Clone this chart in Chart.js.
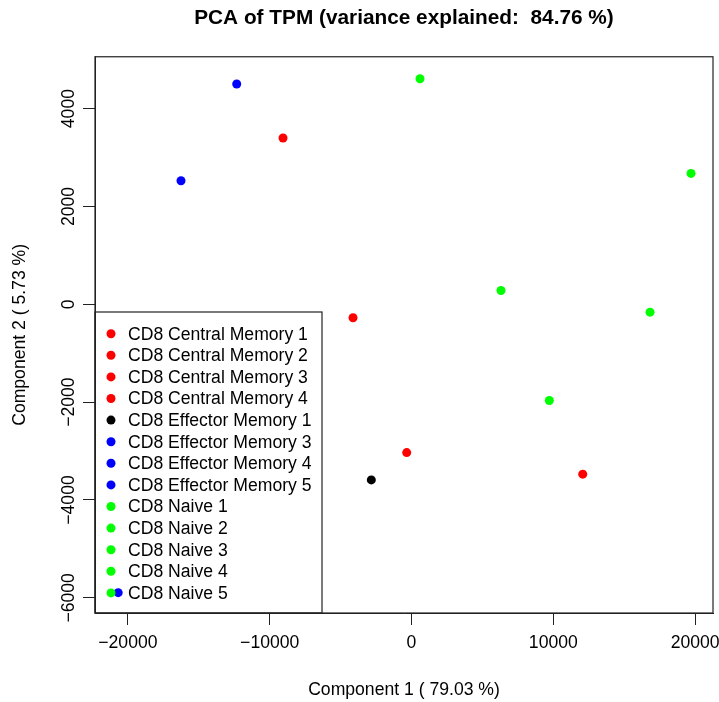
<!DOCTYPE html>
<html>
<head>
<meta charset="utf-8">
<script src="https://cdn.jsdelivr.net/npm/chart.js@4.4.1/dist/chart.umd.min.js"></script>
<style>
  html, body { margin: 0; padding: 0; background: #fff; }
</style>
</head>
<body>
<canvas id="pcaChart" width="719" height="702"></canvas>
<script>
// sample names, in legend order
const samples = [
  'CD8 Central Memory 1', 'CD8 Central Memory 2', 'CD8 Central Memory 3', 'CD8 Central Memory 4',
  'CD8 Effector Memory 1', 'CD8 Effector Memory 3', 'CD8 Effector Memory 4', 'CD8 Effector Memory 5',
  'CD8 Naive 1', 'CD8 Naive 2', 'CD8 Naive 3', 'CD8 Naive 4', 'CD8 Naive 5'
];
const pc1 = [-9062, -4125, -339, 12074, -2835, -12327, -16255, -20684, 599, 19711, 6312, 16819, 9718];
const pc2 = [3399, -276, -3031, -3472, -3589, 4503, 2526, -5894, 4611, 2675, 282, -160, -1967];

const xTicks = [-20000, -10000, 0, 10000, 20000];
const yTicks = [-6000, -4000, -2000, 0, 2000, 4000];
const xRange = [-22320, 21260];
const yRange = [-6310, 5060];

const groupColors = {
  'CD8 Central Memory': '#ff0000',
  'CD8 Effector Memory': '#000000',
  'CD8 Naive': '#00ff00'
};
const colorOf = name => {
  const grp = name.replace(/ \d+$/, '');
  // effector memory 3-5 came out blue in the original
  if (grp === 'CD8 Effector Memory' && !name.endsWith(' 1')) return '#0000ff';
  return groupColors[grp];
};

const FONT = "'Liberation Sans', Arial, Helvetica, sans-serif";
const fmt = v => String(v).replace('-', '\u2212');

Chart.defaults.font.family = FONT;
Chart.defaults.color = '#000';

const datasets = samples.map((name, i) => ({
  label: name,
  data: [{ x: pc1[i], y: pc2[i] }],
  backgroundColor: colorOf(name),
  borderWidth: 0,
  pointRadius: 4.5
}));

// box, rotated y labels and the R style legend
const rStyle = {
  id: 'rStyle',
  afterDatasetsDraw(chart) {
    const { ctx, chartArea: a, scales } = chart;
    ctx.save();
    ctx.strokeStyle = '#222';
    ctx.lineWidth = 1.2;
    ctx.strokeRect(a.left, a.top, a.right - a.left, a.bottom - a.top);

    ctx.fillStyle = '#000';
    ctx.font = '17.6px ' + FONT;
    ctx.textAlign = 'center';
    ctx.textBaseline = 'middle';
    yTicks.forEach(v => {
      ctx.save();
      ctx.translate(a.left - 26, scales.y.getPixelForValue(v));
      ctx.rotate(-Math.PI / 2);
      ctx.fillText(fmt(v), 0, 0);
      ctx.restore();
    });

    // legend, bottom left
    const lx = a.left, ly = 312, lw = 227, lh = a.bottom - ly;
    ctx.strokeRect(lx, ly, lw, lh);
    ctx.textAlign = 'left';
    chart.data.datasets.forEach((ds, i) => {
      const y = 333.7 + i * 21.6;
      ctx.beginPath();
      ctx.fillStyle = ds.backgroundColor;
      ctx.arc(lx + 16, y, 4.5, 0, Math.PI * 2);
      ctx.fill();
      ctx.fillStyle = '#000';
      ctx.fillText(ds.label, lx + 33, y + 1);
    });
    ctx.restore();
  }
};

new Chart(document.getElementById('pcaChart'), {
  type: 'scatter',
  data: { datasets },
  plugins: [rStyle],
  options: {
    responsive: false,
    animation: false,
    layout: { padding: { left: 0, right: 6, top: 0, bottom: 0 } },
    plugins: {
      legend: { display: false },
      tooltip: { enabled: false },
      title: {
        display: true,
        fullSize: false,
        text: 'PCA of TPM (variance explained:  84.76 %)',
        color: '#000',
        font: { size: 20.8, weight: 'bold', lineHeight: 1.2 },
        padding: { top: 5.6, bottom: 26.2 }
      }
    },
    scales: {
      x: {
        type: 'linear',
        min: xRange[0],
        max: xRange[1],
        afterBuildTicks: s => { s.ticks = xTicks.map(v => ({ value: v })); },
        afterFit: s => { s.height = 89; s.paddingLeft = 0; s.paddingRight = 0; },
        grid: { drawOnChartArea: false, drawTicks: true, tickLength: 12, color: '#222' },
        border: { display: true, color: '#222' },
        ticks: { font: { size: 17.6 }, padding: 8, maxRotation: 0, autoSkip: false, callback: v => fmt(v) },
        title: {
          display: true,
          text: 'Component 1 ( 79.03 %)',
          font: { size: 17.6, lineHeight: 1.2 },
          padding: { top: 0, bottom: 1.5 }
        }
      },
      y: {
        type: 'linear',
        min: yRange[0],
        max: yRange[1],
        afterBuildTicks: s => { s.ticks = yTicks.map(v => ({ value: v })); },
        afterFit: s => { s.width = 95; s.paddingTop = 0; s.paddingBottom = 0; },
        grid: { drawOnChartArea: false, drawTicks: true, tickLength: 12, color: '#222' },
        border: { display: true, color: '#222' },
        ticks: { display: false },
        title: {
          display: true,
          text: 'Component 2 ( 5.73 %)',
          font: { size: 17.6, lineHeight: 1.2 },
          padding: { top: 10, bottom: 0 }
        }
      }
    }
  }
});
</script>
</body>
</html>
